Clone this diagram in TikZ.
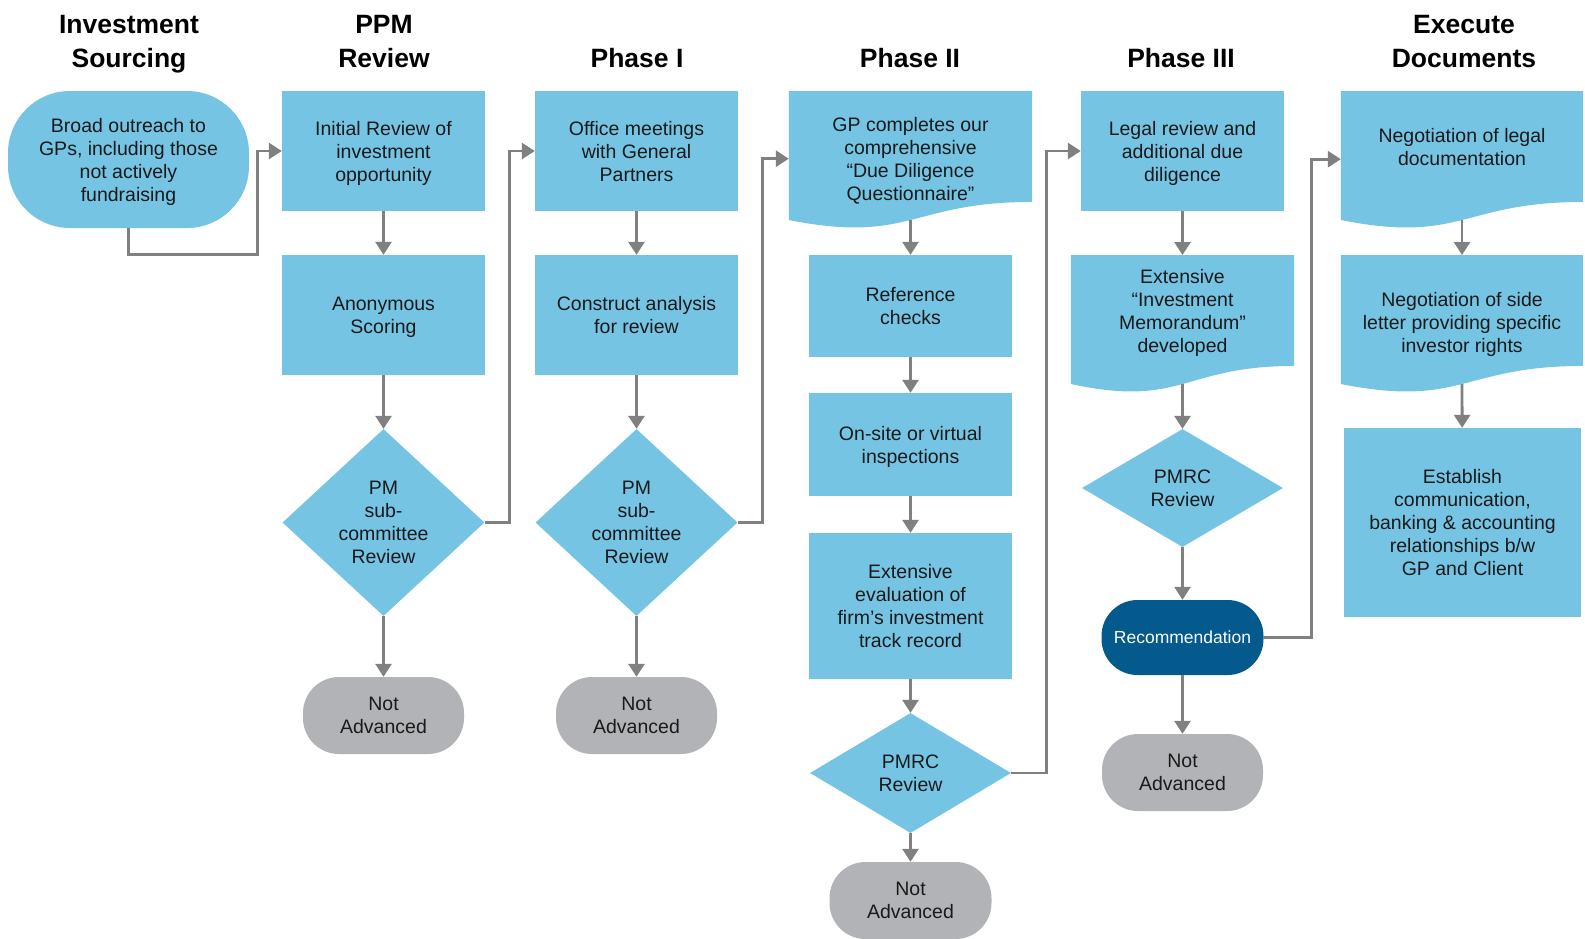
\documentclass[tikz,border=0pt]{standalone}
\usepackage{fontspec}
\setmainfont{Liberation Sans}
\usepackage{tikz}
\usetikzlibrary{shapes.geometric,shapes.misc,arrows.meta,calc,backgrounds}
\definecolor{boxblue}{RGB}{117,196,228}
\definecolor{darkblue}{RGB}{4,90,140}
\definecolor{nagray}{RGB}{178,179,182}
\definecolor{linegray}{RGB}{128,128,128}
\definecolor{inkblack}{RGB}{26,26,26}
\newcommand{\boxfont}{\fontsize{19.5}{23}\selectfont}
\newcommand{\colheadfont}{\fontsize{26.5}{34}\selectfont\bfseries}
\tikzstyle{proc} = [rectangle, fill=boxblue, text=inkblack, align=center, font=\boxfont, inner sep=0pt, text depth=-3pt]
\tikzstyle{decide} = [diamond, fill=boxblue, text=inkblack, align=center, font=\boxfont, inner sep=0pt, text depth=-3pt]
\tikzstyle{term} = [rectangle, rounded corners=36pt, fill=nagray, text=inkblack, align=center, font=\boxfont, inner sep=0pt, text depth=-3pt, minimum width=161pt, minimum height=77pt]
\tikzstyle{docnode} = [rectangle, draw=none, fill=none, text=inkblack, align=center, font=\boxfont, inner sep=0pt, text depth=-3pt, anchor=north]
\tikzstyle{textonly} = [draw=none, fill=none, text=black, align=center, font=\colheadfont]
\tikzstyle{tedge}  = [draw, line width=2.8pt, linegray, >={Triangle[width=16pt,length=13pt]}, ->]
% document shape below a node: #1 node, #2 depth of the wave's left end
\newcommand{\docshape}[2]{%
  \fill[boxblue] (#1.north west) -- (#1.north east)
    -- ($(#1.north east)+(0,0.86*#2)$)
    .. controls ($(#1.north)+(0,0.86*#2)$) and ($(#1.north)+(0,1.187*#2)$) .. ($(#1.north west)+(0,#2)$) -- cycle;
  \coordinate (#1-b) at ($(#1.north)+(0,#2)$);}

\begin{document}
\begin{tikzpicture}[x=1pt, y=-1pt]
\useasboundingbox (0,0) rectangle (1585,938);
%headers
\node[textonly] (invsrc) at (129,44) {Investment\\Sourcing};
\node[textonly] (ppm) at (384,42) {PPM\\Review};
\node[textonly] (ph1) at (637,58) {Phase I};
\node[textonly] (ph2) at (910,58) {Phase II};
\node[textonly] (ph3) at (1181,58) {Phase III};
\node[textonly] (execdoc) at (1464,42) {Execute\\Documents};

%sourcing
\node[proc, rounded corners=62pt, minimum width=241pt, minimum height=137pt] (broad) at (128.5,159.5) {Broad outreach to\\GPs, including those\\not actively\\fundraising};

%ppm review
\node[proc, minimum width=203pt, minimum height=120pt] (initrev) at (383.5,151) {Initial Review of\\investment\\opportunity};
\node[proc, minimum width=203pt, minimum height=120pt] (anon) at (383.5,315) {Anonymous\\Scoring};
\node[decide, minimum width=202pt, minimum height=187pt] (pm1) at (383.5,522.5) {PM\\sub-\\committee\\Review};
\node[term] (na1) at (383.5,715.5) {Not\\Advanced};

%phase I
\node[proc, minimum width=203pt, minimum height=120pt] (office) at (636.5,151) {Office meetings\\with General\\Partners};
\node[proc, minimum width=203pt, minimum height=120pt] (construct) at (636.5,315) {Construct analysis\\for review};
\node[decide, minimum width=202pt, minimum height=187pt] (pm2) at (636.5,522.5) {PM\\sub-\\committee\\Review};
\node[term] (na2) at (636.5,715.5) {Not\\Advanced};

%phase II
\node[docnode, minimum width=243pt, minimum height=135pt] (gp) at (910.5,91) {GP completes our\\comprehensive\\“Due Diligence\\Questionnaire”};
\node[proc, minimum width=203pt, minimum height=102pt] (refchk) at (910.5,306) {Reference\\checks};
\node[proc, minimum width=203pt, minimum height=103pt] (onsite) at (910.5,444.5) {On-site or virtual\\inspections};
\node[proc, minimum width=203pt, minimum height=146pt] (evalrec) at (910.5,606) {Extensive\\evaluation of\\firm’s investment\\track record};
\node[decide, minimum width=201pt, minimum height=120pt] (pmrc1) at (910.5,773) {PMRC\\Review};
\node[term, minimum width=162pt] (na3) at (910.5,900.5) {Not\\Advanced};

%phase III
\node[proc, minimum width=203pt, minimum height=120pt] (legal) at (1182.5,151) {Legal review and\\additional due\\diligence};
\node[docnode, minimum width=223pt, minimum height=111pt] (memo) at (1182.5,255) {Extensive\\“Investment\\Memorandum”\\developed};
\node[decide, minimum width=201pt, minimum height=118pt] (pmrc2) at (1182.5,488) {PMRC\\Review};
\node[term, fill=darkblue, text=white, font=\fontsize{17.5}{21}\selectfont, minimum width=162pt, minimum height=75pt] (recom) at (1182.5,637.5) {Recommendation};
\node[term] (na4) at (1182.5,772.5) {Not\\Advanced};

%execute documents
\node[docnode, minimum width=242pt, minimum height=112pt] (negleg) at (1462,91) {Negotiation of legal\\documentation};
\node[docnode, minimum width=242pt, minimum height=134pt] (negside) at (1462,255) {Negotiation of side\\letter providing specific\\investor rights};
\node[proc, minimum width=237pt, minimum height=189pt] (establish) at (1462.5,522.5) {Establish\\communication,\\banking \& accounting\\relationships b/w\\GP and Client};

%document shapes
\begin{scope}[on background layer]
\docshape{gp}{129}
\docshape{memo}{129}
\docshape{negleg}{129}
\docshape{negside}{129}
\end{scope}

%paths
\path[tedge] (broad.south) -- ++(0,26) -| ([xshift=-24pt]initrev.west) -- (initrev.west);
\path[tedge] (initrev) -- (anon);
\path[tedge] (anon) -- (pm1);
\path[tedge] (pm1) -- (na1);
\path[tedge] (pm1.east) -| ([xshift=-25pt]office.west) -- (office.west);

\path[tedge] (office) -- (construct);
\path[tedge] (construct) -- (pm2);
\path[tedge] (pm2) -- (na2);
\path[tedge] (pm2.east) -| ([xshift=-26pt]gp.west) -- (gp.west);

\path[tedge] (gp-b) -- (refchk);
\path[tedge] (refchk) -- (onsite);
\path[tedge] (onsite) -- (evalrec);
\path[tedge] (evalrec) -- (pmrc1);
\path[tedge] (pmrc1) -- (na3);
\path[tedge] (pmrc1.east) -| ([xshift=-34pt]legal.west) -- (legal.west);

\path[tedge] (legal) -- (memo);
\path[tedge] (memo-b) -- (pmrc2);
\path[tedge] (pmrc2) -- (recom);
\path[tedge] (recom) -- (na4);
\path[tedge] (recom.east) -| ([xshift=-29pt, yshift=-12pt]negleg.west) -- ([yshift=-12pt]negleg.west);

\path[tedge] (negleg-b) -- (negside);
\path[tedge] (negside-b) -- (establish);

\end{tikzpicture}
\end{document}
